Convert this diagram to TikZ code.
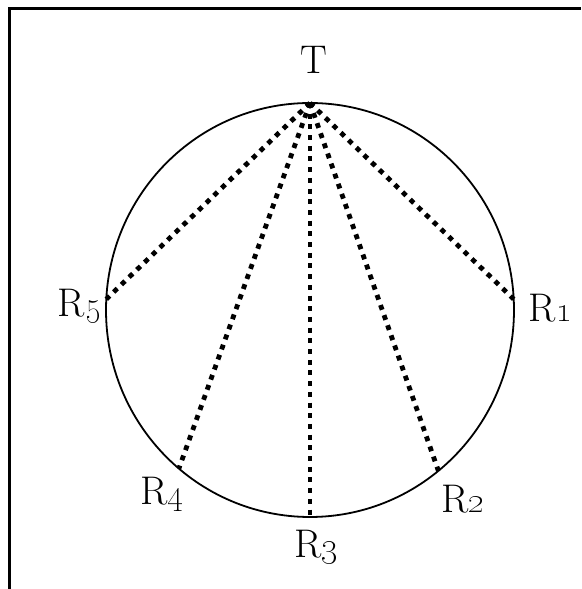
\documentclass[tikz,border=0pt]{standalone}
\usetikzlibrary{positioning}
\tikzset{
  rim/.style={line width=1.8pt, draw=black},
  frameline/.style={line width=3pt, draw=black},
  sightline/.style={line width=4.8pt, draw=black, dash pattern=on 5pt off 5.7pt},
  ptlab/.style={font=\fontsize{40}{46}\selectfont, inner sep=0pt},
}
\begin{document}
\begin{tikzpicture}[x=1pt, y=1pt]
\useasboundingbox (0,0) rectangle (581,589);
% --- frame (top and left edges only) ---
\coordinate (fbl) at (9,0);
\coordinate (ftl) at (9,580);
\coordinate (ftr) at (581,580);
\draw[frameline] (fbl) -- (ftl) -- (ftr);
% --- circle and points on it ---
\coordinate (c) at (310,279);
\draw[rim] (c) ellipse [x radius=204, y radius=207];
\coordinate (T) at ([shift={(90:204 and 207)}]c);
\coordinate (R1) at ([shift={(3:204 and 207)}]c);
\coordinate (R2) at ([shift={(309:204 and 207)}]c);
\coordinate (R3) at ([shift={(270:204 and 207)}]c);
\coordinate (R4) at ([shift={(230:204 and 207)}]c);
\coordinate (R5) at ([shift={(177:204 and 207)}]c);
% --- sight lines ---
\draw[sightline] (T) -- (R1);
\draw[sightline] (T) -- (R2);
\draw[sightline] (T) -- (R3);
\draw[sightline] (T) -- (R4);
\draw[sightline] (T) -- (R5);
% --- labels ---
\node[ptlab, anchor=base] (tlab) at ([shift={(4,29)}]T) {T};
\node[ptlab, anchor=base west] (r1lab) at ([shift={(15,-22)}]R1) {R\oldstylenums{1}};
\node[ptlab, anchor=base west] (r2lab) at ([shift={(3,-42)}]R2) {R\oldstylenums{2}};
\node[ptlab, anchor=base] (r3lab) at ([shift={(6,-41)}]R3) {R\oldstylenums{3}};
\node[ptlab, anchor=base east] (r4lab) at ([shift={(5,-36)}]R4) {R\oldstylenums{4}};
\node[ptlab, anchor=base east] (r5lab) at ([shift={(-5,-17)}]R5) {R\oldstylenums{5}};
\end{tikzpicture}
\end{document}
